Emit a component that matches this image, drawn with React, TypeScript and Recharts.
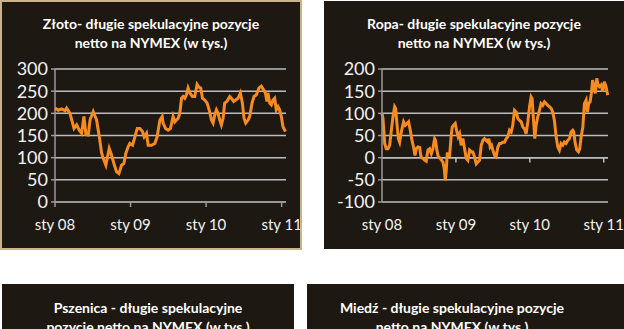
import React from "react";
import { LineChart, Line, XAxis, YAxis, CartesianGrid, ReferenceLine } from "recharts";

// x positions in weeks since January 2008
const zlotoWeeks = [0, 2.3, 4.6, 6.9, 8.0, 10.3, 11.5, 13.1, 14.9, 16.7, 18.3, 19.9, 21.3, 22.9, 24.1, 26.3, 28.6, 30.5, 32.1, 33.7, 35.0, 37.3, 38.9, 40.5, 42.4, 44.0, 45.8, 47.4, 48.8, 50.4, 51.5, 53.4, 55.0, 56.6, 58.4, 60.2, 61.4, 63.0, 64.1, 66.4, 68.7, 70.3, 72.2, 73.8, 74.4, 76.1, 77.9, 79.5, 81.3, 82.5, 83.6, 84.8, 85.9, 87.1, 88.2, 89.3, 90.5, 91.6, 92.8, 94.6, 96.2, 97.8, 99.0, 100.3, 101.5, 103.1, 104.7, 106.1, 107.7, 108.8, 110.0, 111.1, 112.2, 113.4, 114.5, 115.7, 116.8, 118.4, 120.3, 121.4, 123.0, 124.4, 126.0, 127.6, 129.0, 130.1, 131.3, 132.9, 134.0, 135.6, 137.0, 138.6, 140.4, 142.0, 143.6, 144.8, 145.9, 146.6, 147.8, 148.9, 150.0, 151.2, 152.3, 153.5, 154.6, 155.8, 156.9, 158.1, 158.7];
const zlotoValues = [212, 207, 210, 206, 212, 200, 185, 166, 174, 162, 155, 193, 152, 151, 185, 204, 185, 147, 110, 94, 83, 121, 106, 87, 68, 64, 83, 87, 110, 125, 132, 128, 147, 166, 166, 159, 147, 155, 128, 128, 132, 147, 185, 193, 178, 166, 162, 166, 193, 181, 185, 189, 200, 234, 238, 234, 242, 257, 246, 238, 238, 265, 259, 257, 234, 230, 223, 208, 185, 178, 197, 208, 200, 185, 174, 189, 223, 227, 238, 234, 227, 230, 234, 246, 223, 189, 178, 185, 193, 223, 238, 242, 257, 261, 253, 246, 227, 246, 223, 219, 230, 234, 208, 215, 208, 193, 170, 162, 159];

const ropaWeeks = [0, 0.7, 1.9, 3.0, 4.2, 5.4, 6.6, 7.7, 8.9, 9.6, 10.5, 11.5, 12.4, 13.6, 14.3, 15.2, 16.4, 17.6, 18.7, 19.9, 21.1, 22.2, 23.2, 24.1, 25.3, 26.5, 27.4, 28.8, 30.2, 31.1, 32.3, 33.5, 34.7, 35.8, 37.0, 37.7, 38.6, 39.6, 40.5, 41.7, 42.9, 43.8, 44.5, 45.2, 45.9, 46.8, 47.5, 48.7, 49.4, 50.4, 51.5, 52.7, 53.6, 54.6, 55.7, 56.9, 58.1, 59.3, 60.4, 61.6, 62.8, 63.9, 65.1, 66.3, 67.5, 68.6, 69.8, 71.0, 72.1, 73.3, 74.5, 75.2, 76.1, 77.1, 78.0, 79.2, 80.3, 81.5, 82.7, 83.8, 85.0, 86.2, 87.4, 88.5, 89.7, 90.9, 92.0, 93.2, 94.4, 95.6, 96.7, 97.9, 99.1, 100.2, 101.4, 102.6, 103.8, 104.9, 105.6, 106.6, 107.5, 108.4, 109.6, 110.8, 111.9, 113.1, 114.3, 115.5, 116.6, 117.8, 119.0, 120.1, 121.3, 122.5, 123.7, 124.8, 126.0, 127.2, 128.3, 129.5, 130.7, 131.9, 133.0, 134.2, 134.9, 135.8, 137.0, 138.2, 139.1, 140.1, 141.3, 142.4, 143.6, 144.5, 145.4, 146.4, 147.3, 148.2, 149.2, 150.1, 151.1, 152.0, 152.9, 154.1, 155.3, 156.4, 157.6, 158.8];
const ropaValues = [100, 88, 32, 20, 20, 28, 62, 92, 115, 111, 77, 43, 35, 58, 69, 81, 73, 77, 81, 62, 39, 24, 5, 20, 24, 23, 2, -2, -6, -8, 17, 20, 9, 20, 43, 39, 17, 2, 0, -5, -10, -25, -51, -29, 9, 9, 2, 50, 69, 73, 77, 58, 47, 54, 28, 43, 20, -2, -6, 17, 13, 13, 2, -14, -10, -6, 28, 39, 43, 39, 35, 43, 24, 28, 17, 5, 2, 24, 32, 32, 35, 35, 43, 47, 62, 58, 73, 107, 103, 88, 84, 81, 69, 65, 54, 81, 115, 137, 133, 84, 43, 73, 92, 107, 122, 118, 126, 122, 118, 115, 111, 103, 84, 47, 24, 17, 32, 28, 35, 32, 39, 43, 58, 62, 58, 35, 17, 13, 20, 47, 69, 122, 130, 103, 122, 126, 145, 175, 156, 145, 179, 164, 160, 164, 149, 171, 160, 141];

const xTicks = [0, 52, 104, 156];
const xTickLabels = ["sty 08", "sty 09", "sty 10", "sty 11"];
const zlotoYTicks = [0, 50, 100, 150, 200, 250, 300];
const ropaYTicks = [-100, -50, 0, 50, 100, 150, 200];

const titles = {
  zloto: ["Złoto- długie spekulacyjne pozycje", "netto na NYMEX (w tys.)"],
  ropa: ["Ropa- długie spekulacyjne pozycje", "netto na NYMEX (w tys.)"],
  pszenica: ["Pszenica - długie spekulacyjne", "pozycje netto na NYMEX (w tys.)"],
  miedz: ["Miedź - długie spekulacyjne pozycje", "netto na NYMEX (w tys.)"],
};

const zlotoData = zlotoWeeks.map((w, i) => ({ w, v: zlotoValues[i] }));
const ropaData = ropaWeeks.map((w, i) => ({ w, v: ropaValues[i] }));

const BG = "#1d1811";
const GRID = "#bdbdbd";
const AXIS = "#9a9a9a";
const ORANGE = "#f68b1f";
const FONT = "Lato, 'Open Sans', sans-serif";

const fmtX = (v: number) => xTickLabels[xTicks.indexOf(v)] ?? "";

function Title({ lines, left, top, width }: { lines: string[]; left: number; top: number; width: number }) {
  return (
    <div
      style={{
        position: "absolute",
        left,
        top,
        width,
        textAlign: "center",
        color: "#ffffff",
        fontFamily: FONT,
        fontWeight: 700,
        fontSize: 14,
        lineHeight: "19px",
        whiteSpace: "nowrap",
      }}
    >
      {lines.map((l) => (
        <div key={l}>{l}</div>
      ))}
    </div>
  );
}

export default function App() {
  return (
    <div
      style={{
        position: "absolute",
        left: 0,
        top: 0,
        width: 624,
        height: 329,
        overflow: "hidden",
        background: "#ffffff",
      }}
    >
      {/* Panel 1: Złoto */}
      <div
        style={{
          position: "absolute",
          left: 0,
          top: 0,
          width: 302,
          height: 250,
          background: BG,
          border: "2px solid #c9b38a",
          boxSizing: "border-box",
        }}
      />
      <div style={{ position: "absolute", left: 0, top: 0 }}>
        <LineChart width={302} height={250} data={zlotoData} margin={{ top: 69, right: 16, bottom: 18, left: 0 }}>
          <CartesianGrid horizontal vertical={false} stroke={GRID} strokeWidth={1.5} />
          <XAxis
            dataKey="w"
            type="number"
            domain={[0, 159]}
            ticks={xTicks}
            tickFormatter={fmtX}
            height={30}
            stroke={AXIS}
            strokeWidth={1.5}
            tickSize={5}
            tickMargin={12}
            tick={{ fill: "#f2f2f2", fontSize: 15, fontFamily: FONT }}
            interval={0}
          />
          <YAxis
            type="number"
            domain={[0, 300]}
            ticks={zlotoYTicks}
            width={55}
            stroke={AXIS}
            strokeWidth={1.5}
            tickSize={4}
            tickMargin={3}
            tick={{ fill: "#f2f2f2", fontSize: 18, fontFamily: FONT }}
            interval={0}
          />
          <Line type="linear" dataKey="v" stroke={ORANGE} strokeWidth={3} dot={false} isAnimationActive={false} />
        </LineChart>
      </div>
      <Title lines={titles.zloto} left={0} top={14} width={302} />

      {/* Panel 2: Ropa */}
      <div style={{ position: "absolute", left: 324, top: 1, width: 300, height: 248, background: BG }} />
      <div style={{ position: "absolute", left: 324, top: 0 }}>
        <LineChart width={300} height={249} data={ropaData} margin={{ top: 69, right: 16, bottom: 17, left: 0 }}>
          <CartesianGrid horizontal vertical={false} stroke={GRID} strokeWidth={1.5} />
          <ReferenceLine y={0} stroke={GRID} strokeWidth={1.5} />
          {xTicks.slice(1).map((t) => (
            <ReferenceLine
              key={t}
              segment={[
                { x: t, y: 0 },
                { x: t, y: -11 },
              ]}
              stroke={GRID}
              strokeWidth={1.5}
            />
          ))}
          <XAxis
            dataKey="w"
            type="number"
            domain={[0, 159]}
            ticks={xTicks}
            tickFormatter={fmtX}
            height={30}
            axisLine={false}
            tickLine={false}
            tickSize={5}
            tickMargin={12}
            tick={{ fill: "#f2f2f2", fontSize: 15, fontFamily: FONT }}
            interval={0}
          />
          <YAxis
            type="number"
            domain={[-100, 200]}
            ticks={ropaYTicks}
            width={58}
            stroke={AXIS}
            strokeWidth={1.5}
            tickSize={4}
            tickMargin={3}
            tick={{ fill: "#f2f2f2", fontSize: 18, fontFamily: FONT }}
            interval={0}
          />
          <Line type="linear" dataKey="v" stroke={ORANGE} strokeWidth={3} dot={false} isAnimationActive={false} />
        </LineChart>
      </div>
      <Title lines={titles.ropa} left={324} top={14} width={300} />

      {/* Panel 3: Pszenica (cut off) */}
      <div style={{ position: "absolute", left: 2, top: 284, width: 292, height: 60, background: BG }} />
      <Title lines={titles.pszenica} left={2} top={298} width={292} />

      {/* Panel 4: Miedź (cut off) */}
      <div style={{ position: "absolute", left: 307, top: 284, width: 317, height: 60, background: BG }} />
      <Title lines={titles.miedz} left={307} top={298} width={290} />
    </div>
  );
}
